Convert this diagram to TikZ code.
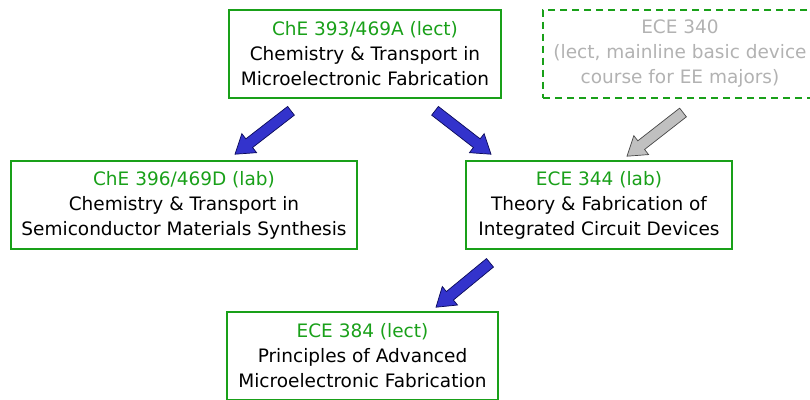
\documentclass[tikz,border=0pt]{standalone}
\usepackage{fontspec}
\setmainfont{DejaVu Sans}
\usetikzlibrary{calc}

\definecolor{coursegreen}{RGB}{25,160,25}
\definecolor{optgray}{RGB}{178,178,178}
\definecolor{arrowblue}{RGB}{51,51,204}
\definecolor{arrowedge}{RGB}{10,10,90}
\definecolor{arrowgray}{RGB}{192,192,192}
\definecolor{arrowgrayedge}{RGB}{70,70,70}

\tikzset{
  course/.style={draw=coursegreen, line width=1.6pt, minimum width=#1,
    minimum height=88pt, align=center, inner sep=0pt,
    font=\fontsize{18.5}{25}\selectfont},
  optcourse/.style={course=#1, line width=2pt,
    dash pattern=on 7pt off 5pt,
    font=\fontsize{18.5}{25}\selectfont\color{optgray}},
  bluearrow/.style={fill=arrowblue, draw=arrowedge, line width=0.7pt, line join=miter},
  grayarrow/.style={fill=arrowgray, draw=arrowgrayedge, line width=0.7pt, line join=miter}
}

% block arrow from #1 to #2 (tip), style #3
\newcommand{\fatarrow}[3]{%
  \coordinate (headbase) at ($(#2)!18pt!(#1)$);
  \draw[#3] ($(#1)!5.5pt!90:(#2)$) -- ($(headbase)!5.5pt!90:(#2)$)
    -- ($(headbase)!12pt!90:(#2)$) -- (#2)
    -- ($(headbase)!12pt!-90:(#2)$) -- ($(headbase)!5.5pt!-90:(#2)$)
    -- ($(#1)!5.5pt!-90:(#2)$) -- cycle;
}

\begin{document}
\begin{tikzpicture}[x=1pt, y=-1pt]
    \clip (0,0) rectangle (810,399);

    % Lecture on top
    \node[course=272pt] (lect393) at (365,54)
      {\textcolor{coursegreen}{ChE 393/469A (lect)}\\Chemistry \& Transport in\\Microelectronic Fabrication};
    \node[optcourse=274pt] (ece340) at (680,53.5)
      {ECE 340\\(lect, mainline basic device\\course for EE majors)};

    % Labs
    \node[course=346pt] (lab396) at (184,205)
      {\textcolor{coursegreen}{ChE 396/469D (lab)}\\Chemistry \& Transport in\\Semiconductor Materials Synthesis};
    \node[course=266pt] (lab344) at (599,205)
      {\textcolor{coursegreen}{ECE 344 (lab)}\\Theory \& Fabrication of\\Integrated Circuit Devices};

    % Advanced lecture
    \node[course=271pt] (lect384) at (362.5,356)
      {\textcolor{coursegreen}{ECE 384 (lect)}\\Principles of Advanced\\Microelectronic Fabrication};

    % Arrow ends
    \coordinate (a1from) at ([xshift=-74pt, yshift=-12pt]lect393.south);
    \coordinate (a1to) at ([xshift=51pt, yshift=6pt]lab396.north);
    \coordinate (a2from) at ([xshift=70pt, yshift=-12pt]lect393.south);
    \coordinate (a2to) at ([xshift=-108pt, yshift=6pt]lab344.north);
    \coordinate (a3from) at ([xshift=3pt, yshift=-14pt]ece340.south);
    \coordinate (a3to) at ([xshift=28pt, yshift=4pt]lab344.north);
    \coordinate (a4from) at ([xshift=-109pt, yshift=-13pt]lab344.south);
    \coordinate (a4to) at ([xshift=73.5pt, yshift=4pt]lect384.north);

    % Block arrows
    \fatarrow{a1from}{a1to}{bluearrow}
    \fatarrow{a2from}{a2to}{bluearrow}
    \fatarrow{a3from}{a3to}{grayarrow}
    \fatarrow{a4from}{a4to}{bluearrow}
\end{tikzpicture}
\end{document}
